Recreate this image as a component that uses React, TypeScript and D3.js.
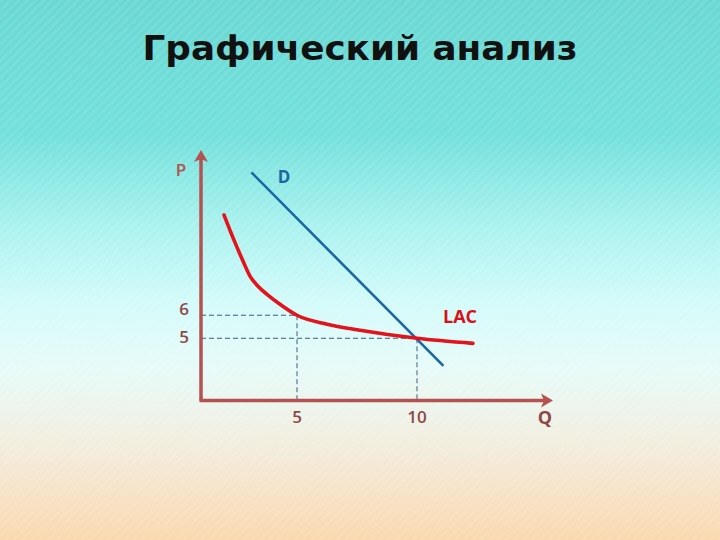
import React from 'react'
import * as d3 from 'd3'

// values
const lacQ = [1.96, 2.375, 2.75, 3.04, 3.375, 3.75, 4.29, 5, 6.25, 7.625, 10, 12.33]
const lacP = [10.35, 9.26, 8.35, 7.7, 7.26, 6.91, 6.48, 6, 5.61, 5.35, 5, 4.78]
const demandQ = [3.1, 11.1]
const demandP = [12.2, 3.8]
const guideQ = [5, 10]
const guideP = [6, 5]
const xTickLabels = ['5', '10']
const yTickLabels = ['6', '5']

const W = 720
const H = 540

const App = () => {
  // axes are not zero based: origin sits at q=1, p=2.3
  const x = d3.scaleLinear().domain([1, 15.5]).range([201, 549])
  const y = d3.scaleLinear().domain([2.3, 13.17]).range([400.5, 150])

  const lacPts: [number, number][] = lacQ.map((q, i) => [q, lacP[i]])
  const demandPts: [number, number][] = demandQ.map((q, i) => [q, demandP[i]])

  const curve = d3.line<[number, number]>()
    .x(d => x(d[0]))
    .y(d => y(d[1]))
    .curve(d3.curveMonotoneX)
  const straight = d3.line<[number, number]>()
    .x(d => x(d[0]))
    .y(d => y(d[1]))

  const x0 = x(1), y0 = y(2.3)
  const axisCol = '#b4524f'
  const labelCol = '#8e4845'
  const font = "'Open Sans', 'DejaVu Sans', sans-serif"

  return (
    <svg width={W} height={H} style={{ position: 'absolute', left: 0, top: 0 }}>
      <defs>
        <linearGradient id="bg" x1="0" y1="0" x2="0" y2="1">
          <stop offset="0" stopColor="#69d8d3" />
          <stop offset="0.25" stopColor="#72e0db" />
          <stop offset="0.42" stopColor="#aaf2ef" />
          <stop offset="0.56" stopColor="#d3fbfa" />
          <stop offset="0.68" stopColor="#e6fbf9" />
          <stop offset="0.8" stopColor="#f1f0e3" />
          <stop offset="0.9" stopColor="#f6e4cb" />
          <stop offset="1" stopColor="#fad8ae" />
        </linearGradient>
        <pattern id="stripes" width="6" height="6" patternUnits="userSpaceOnUse" patternTransform="rotate(45)">
          <rect width="3" height="6" fill="#ffffff" opacity="0.08" />
        </pattern>
      </defs>
      <rect width={W} height={H} fill="url(#bg)" />
      <rect width={W} height={H} fill="url(#stripes)" />

      <text x={360} y={60} textAnchor="middle" fontFamily="'DejaVu Sans', sans-serif"
        fontWeight="bold" fontSize={34} fill="#111" textLength={435} lengthAdjust="spacingAndGlyphs">
        Графический анализ
      </text>

      {/* guide lines */}
      {guideQ.map((q, i) => (
        <g key={i} stroke="#3e5c7c" strokeWidth={1} strokeDasharray="5,3" fill="none">
          <line x1={x0} y1={y(guideP[i])} x2={x(q)} y2={y(guideP[i])} />
          <line x1={x(q)} y1={y(guideP[i])} x2={x(q)} y2={y0} />
        </g>
      ))}

      {/* axes */}
      <line x1={x0} y1={y0} x2={x0} y2={y.range()[1] + 9} stroke={axisCol} strokeWidth={3.5} />
      <line x1={x0 - 1.5} y1={y0} x2={x.range()[1] - 5} y2={y0} stroke={axisCol} strokeWidth={3.5} />
      <path d={`M${x0},${y.range()[1]} l-7,12 l7,-3 l7,3 z`} fill={axisCol} />
      <path d={`M${x.range()[1] + 4},${y0} l-12,-7 l3,7 l-3,7 z`} fill={axisCol} />

      {/* demand */}
      <path d={straight(demandPts) ?? ''} stroke="#1b67a3" strokeWidth={2.6} fill="none" />
      {/* LAC */}
      <path d={curve(lacPts) ?? ''} stroke="#e4121b" strokeWidth={3.6} fill="none" strokeLinecap="round" />

      {/* tick labels */}
      {guideQ.map((q, i) => (
        <text key={'x' + i} x={x(q)} y={423} textAnchor="middle" fontFamily={font}
          fontSize={17} fontWeight={600} fill={labelCol}>{xTickLabels[i]}</text>
      ))}
      {guideP.map((p, i) => (
        <text key={'y' + i} x={184} y={y(p) + 5 - (i === 0 ? 5 : 0)} textAnchor="middle" fontFamily={font}
          fontSize={17} fontWeight={600} fill={labelCol}>{yTickLabels[i]}</text>
      ))}

      <text x={181} y={176} textAnchor="middle" fontFamily={font} fontSize={17} fontWeight={600} fill={axisCol}>P</text>
      <text x={545} y={424} textAnchor="middle" fontFamily={font} fontSize={18} fontWeight="bold" fill={labelCol}>Q</text>
      <text x={284} y={183} textAnchor="middle" fontFamily={font} fontSize={17} fontWeight="bold" fill="#1b67a3">D</text>
      <text x={460} y={323} textAnchor="middle" fontFamily={font} fontSize={18} fontWeight="bold" fill="#d9101a">LAC</text>
    </svg>
  )
}

export default App
